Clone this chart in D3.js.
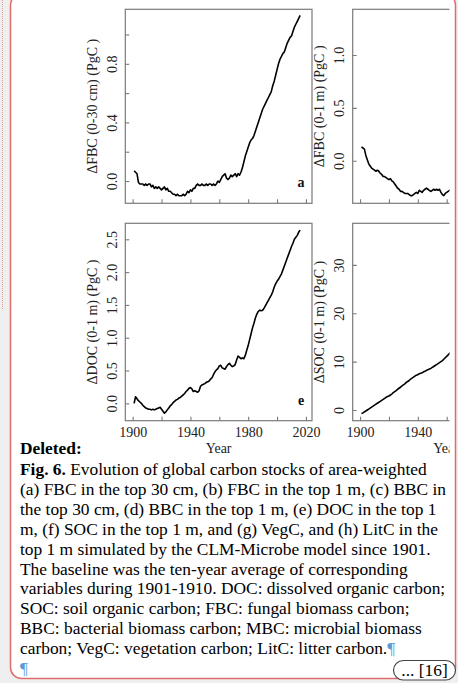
<!DOCTYPE html>
<html><head><meta charset="utf-8">
<script src="https://cdn.jsdelivr.net/npm/d3@7"></script>
<style>body{margin:0;background:#efefef;}svg{display:block}</style>
</head><body>
<svg id="c" width="458" height="683"></svg>
<script>
// ---------- DATA ----------
const yearsAll = d3.range(1901, 2017);
const yearsEarly = d3.range(1901, 1964);

// (a) FBC 0-30 cm
const fbc30 = [0.07,0.06,0.05,-0.01,-0.02,-0.02,-0.02,-0.03,-0.02,-0.03,
  -0.02,-0.02,-0.04,-0.03,-0.05,-0.04,-0.05,-0.04,-0.05,-0.06,
  -0.05,-0.04,-0.06,-0.05,-0.07,-0.07,-0.08,-0.09,-0.09,-0.10,
  -0.09,-0.10,-0.10,-0.10,-0.09,-0.10,-0.09,-0.07,-0.08,-0.06,
  -0.07,-0.05,-0.05,-0.03,-0.02,-0.03,-0.03,-0.02,-0.03,-0.03,
  -0.02,-0.03,-0.02,-0.02,-0.03,-0.02,-0.03,-0.02,0.00,-0.01,
  0.01,0.03,0.04,0.05,0.02,0.01,0.02,0.04,0.03,0.04,
  0.05,0.03,0.05,0.04,0.06,0.09,0.13,0.17,0.20,0.23,
  0.26,0.28,0.29,0.31,0.34,0.37,0.40,0.43,0.46,0.49,
  0.51,0.53,0.55,0.57,0.59,0.61,0.65,0.68,0.72,0.76,
  0.80,0.83,0.85,0.87,0.88,0.91,0.94,0.96,0.98,0.99,
  1.02,1.05,1.07,1.09,1.11,1.13];

// (b) FBC 0-1 m (visible part)
const fbc100 = [0.13,0.12,0.11,0.05,0.01,-0.03,-0.05,-0.07,-0.08,-0.09,
  -0.10,-0.09,-0.10,-0.12,-0.13,-0.15,-0.15,-0.16,-0.17,-0.18,
  -0.17,-0.19,-0.20,-0.22,-0.24,-0.26,-0.27,-0.29,-0.29,-0.30,
  -0.31,-0.31,-0.31,-0.32,-0.33,-0.33,-0.32,-0.31,-0.30,-0.31,
  -0.28,-0.29,-0.30,-0.28,-0.27,-0.26,-0.27,-0.28,-0.29,-0.28,
  -0.27,-0.28,-0.27,-0.28,-0.27,-0.30,-0.32,-0.33,-0.31,-0.30,
  -0.29,-0.28,-0.27];

// (e) DOC 0-1 m
const doc100 = [0.00,0.10,0.07,0.04,0.02,0.00,-0.03,-0.05,-0.07,-0.08,
  -0.09,-0.09,-0.10,-0.09,-0.10,-0.09,-0.08,-0.07,-0.06,-0.09,
  -0.12,-0.15,-0.13,-0.10,-0.07,-0.04,-0.02,0.01,0.03,0.05,
  0.06,0.08,0.09,0.11,0.13,0.15,0.18,0.20,0.23,0.24,
  0.22,0.18,0.19,0.18,0.17,0.19,0.26,0.28,0.29,0.30,
  0.32,0.33,0.34,0.37,0.39,0.44,0.48,0.51,0.53,0.57,
  0.58,0.54,0.53,0.52,0.56,0.59,0.61,0.58,0.56,0.57,
  0.59,0.66,0.72,0.70,0.68,0.69,0.68,0.73,0.81,0.88,
  0.97,1.06,1.15,1.22,1.30,1.36,1.40,1.42,1.41,1.42,
  1.45,1.49,1.53,1.57,1.61,1.65,1.70,1.77,1.82,1.86,
  1.89,1.93,1.97,2.03,2.09,2.15,2.21,2.27,2.33,2.39,
  2.44,2.50,2.53,2.56,2.61,2.64];

// (f) SOC 0-1 m (visible part)
const soc100 = [-0.7,-0.6,-0.4,-0.2,0.0,0.2,0.4,0.6,0.8,1.0,
  1.2,1.4,1.6,1.8,2.0,2.2,2.4,2.6,2.8,2.9,
  3.1,3.3,3.6,3.8,4.0,4.3,4.5,4.7,5.0,5.2,
  5.4,5.7,5.9,6.1,6.4,6.6,6.8,7.0,7.2,7.3,
  7.5,7.6,7.7,7.9,8.0,8.2,8.3,8.5,8.6,8.8,
  9.0,9.2,9.4,9.6,9.8,10.0,10.2,10.5,10.8,11.1,
  11.4,11.7,12.0];

const xTicks = [1900,1920,1940,1960,1980,2000,2020];
const xTickLabels = ["1900","","1940","","1980","","2020"];
const ticksA = [0,0.2,0.4,0.6,0.8,1.0];
const ticksALabels = ["0.0","","0.4","","0.8",""];
const ticksB = [0,0.5,1.0];
const ticksBLabels = ["0.0","0.5","1.0"];
const ticksE = [0,0.5,1.0,1.5,2.0,2.5];
const ticksELabels = ["0.0","0.5","1.0","1.5","2.0","2.5"];
const ticksF = [0,10,20,30];
const ticksFLabels = ["0","10","20","30"];

const yLabels = ["ΔFBC (0-30 cm) (PgC )","ΔFBC (0-1 m) (PgC )","ΔDOC (0-1 m) (PgC )","ΔSOC (0-1 m) (PgC )"];
const panelLetters = ["a","","e",""];
const xAxisTitle = "Year";

const captionLines = [
  "(a) FBC in the top 30 cm, (b) FBC in the top 1 m, (c) BBC in",
  "the top 30 cm, (d) BBC in the top 1 m, (e) DOC in the top 1",
  "m, (f) SOC in the top 1 m, and (g) VegC, and (h) LitC in the",
  "top 1 m simulated by the CLM-Microbe model since 1901.",
  "The baseline was the ten-year average of corresponding",
  "variables during 1901-1910. DOC: dissolved organic carbon;",
  "SOC: soil organic carbon; FBC: fungal biomass carbon;",
  "BBC: bacterial biomass carbon; MBC: microbial biomass",
  "carbon; VegC: vegetation carbon; LitC: litter carbon."
];

// ---------- DRAW ----------
const svg = d3.select("#c");
const SERIF = "'Liberation Serif','Times New Roman',serif";
const CLIPX = 449.5;

// comment balloon
svg.append("line").attr("x1",2.5).attr("x2",2.5).attr("y1",0).attr("y2",310)
  .attr("stroke","#d9a0a0").attr("stroke-width",1).attr("stroke-dasharray","1,1");
svg.append("rect").attr("x",10.5).attr("y",-6).attr("width",445).attr("height",684.5)
  .attr("rx",11).attr("fill","#fff").attr("stroke","#e06b6b").attr("stroke-width",1.5);

const defs = svg.append("defs");
defs.append("clipPath").attr("id","chartclip").append("rect")
  .attr("x",0).attr("y",0).attr("width",CLIPX).attr("height",460);

const chart = svg.append("g").attr("clip-path","url(#chartclip)");

const xDomain = [1894.9, 2024.2];
const panels = [
  {x0:125.3,x1:312,y0:9.3,y1:203.3,dom:[-0.152,1.172],ticks:ticksA,tl:ticksALabels,years:yearsAll,vals:fbc30,lab:yLabels[0],letter:panelLetters[0],bottom:false},
  {x0:352.7,x1:539.4,y0:9.3,y1:203.3,dom:[-0.403,1.432],ticks:ticksB,tl:ticksBLabels,years:yearsEarly,vals:fbc100,lab:yLabels[1],letter:panelLetters[1],bottom:false},
  {x0:125.3,x1:312,y0:223.3,y1:420.7,dom:[-0.265,2.744],ticks:ticksE,tl:ticksELabels,years:yearsAll,vals:doc100,lab:yLabels[2],letter:panelLetters[2],bottom:true},
  {x0:352.7,x1:539.4,y0:223.3,y1:420.7,dom:[-2.21,38.6],ticks:ticksF,tl:ticksFLabels,years:yearsEarly,vals:soc100,lab:yLabels[3],letter:panelLetters[3],bottom:true}
];

const FRAME = "#7a7a7a";
panels.forEach(p => {
  const x = d3.scaleLinear().domain(xDomain).range([p.x0,p.x1]);
  const y = d3.scaleLinear().domain(p.dom).range([p.y1,p.y0]);
  const g = chart.append("g");

  const ya = g.append("g").attr("transform",`translate(${p.x0},0)`)
    .call(d3.axisLeft(y).tickValues(p.ticks).tickSizeInner(-4).tickSizeOuter(0)
      .tickFormat((d,i)=>p.tl[i]));
  ya.select(".domain").remove();
  ya.selectAll(".tick line").attr("stroke",FRAME).attr("stroke-width",1.1);
  ya.selectAll(".tick text").attr("transform","rotate(-90)").attr("x",0).attr("y",-13)
    .attr("dy","0.33em").attr("text-anchor","middle")
    .attr("font-family",SERIF).attr("font-size",14).attr("fill","#222");

  const xa = g.append("g").attr("transform",`translate(0,${p.y1})`)
    .call(d3.axisBottom(x).tickValues(xTicks).tickSizeInner(-4).tickSizeOuter(0)
      .tickFormat((d,i)=>(p.bottom && x(d) < CLIPX - 15) ? xTickLabels[i] : ""));
  xa.select(".domain").remove();
  xa.selectAll(".tick line").attr("stroke",FRAME).attr("stroke-width",1.1);
  xa.selectAll(".tick text").attr("y",11).attr("dy","0.35em")
    .attr("font-family",SERIF).attr("font-size",14).attr("fill","#222");

  g.append("rect").attr("x",p.x0).attr("y",p.y0).attr("width",p.x1-p.x0).attr("height",p.y1-p.y0)
    .attr("fill","none").attr("stroke",FRAME).attr("stroke-width",1.2);

  g.append("text").attr("transform",`translate(${p.x0-33},${(p.y0+p.y1)/2}) rotate(-90)`)
    .attr("text-anchor","middle").attr("dy","0.33em")
    .attr("font-family",SERIF).attr("font-size",14).attr("fill","#222").text(p.lab);

  if (p.bottom) {
    g.append("text").attr("x",(p.x0+p.x1)/2).attr("y",p.y1+32.5).attr("text-anchor","middle")
      .attr("font-family",SERIF).attr("font-size",14).attr("fill","#222").text(xAxisTitle);
  }

  const line = d3.line().x((d,i)=>x(p.years[i])).y(d=>y(d));
  g.append("path").datum(p.vals).attr("d",line).attr("fill","none")
    .attr("stroke","#000").attr("stroke-width",1.6).attr("stroke-linejoin","round");

  if (p.letter) {
    g.append("text").attr("x",p.x1-11).attr("y",p.y1-16).attr("text-anchor","middle")
      .attr("font-family",SERIF).attr("font-size",14).attr("font-weight","bold").attr("fill","#111").text(p.letter);
  }
});

// caption text
const FS = 17.4;
svg.append("text").attr("x",20).attr("y",454).attr("font-family",SERIF).attr("font-size",FS)
  .attr("font-weight","bold").attr("fill","#000").text("Deleted:");
const t0 = svg.append("text").attr("x",20).attr("y",475).attr("font-family",SERIF).attr("font-size",FS).attr("fill","#000");
t0.append("tspan").attr("font-weight","bold").text("Fig. 6.");
t0.append("tspan").text(" Evolution of global carbon stocks of area-weighted");
const LH = 19.9;
captionLines.forEach((s,i) => {
  const t = svg.append("text").attr("x",20).attr("y",475+LH*(i+1)).attr("font-family",SERIF)
    .attr("font-size",FS).attr("fill","#000").text(s);
  if (i === captionLines.length-1) t.append("tspan").attr("fill","#5b9bd5").text("¶");
});
svg.append("text").attr("x",20).attr("y",475+LH*10).attr("font-family",SERIF).attr("font-size",FS)
  .attr("fill","#5b9bd5").text("¶");

// "... [16]" pill
svg.append("rect").attr("x",393.5).attr("y",660.5).attr("width",62).attr("height",19.5).attr("rx",9.75)
  .attr("fill","#fff").attr("stroke","#444").attr("stroke-width",1.2);
svg.append("text").attr("x",424.5).attr("y",676).attr("text-anchor","middle").attr("font-family",SERIF)
  .attr("font-size",FS).attr("fill","#000").text("... [16]");
</script>
</body></html>
